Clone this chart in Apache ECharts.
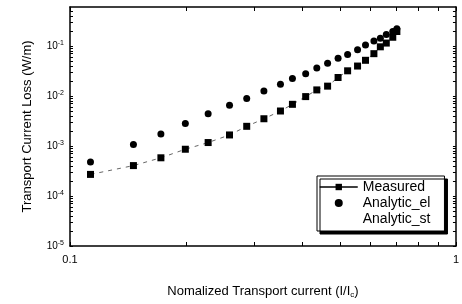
<!DOCTYPE html>
<html>
<head>
<meta charset="utf-8">
<script src="https://cdn.jsdelivr.net/npm/echarts@6/dist/echarts.min.js"></script>
<style>
  html, body { margin: 0; padding: 0; background: #fff; }
  #main { width: 462px; height: 304px; }
</style>
</head>
<body>
<div id="main"></div>
<script>
// normalized current I/Ic (same for both series)
var current = [0.113, 0.146, 0.172, 0.199, 0.228, 0.259, 0.287, 0.318, 0.351, 0.377, 0.408,
    0.436, 0.465, 0.495, 0.524, 0.556, 0.583, 0.613, 0.637, 0.660, 0.686, 0.703];
var measured = [2.7e-4, 4.05e-4, 5.8e-4, 8.6e-4, 1.17e-3, 1.66e-3, 2.47e-3, 3.5e-3, 5.0e-3, 6.8e-3, 9.7e-3,
    1.32e-2, 1.57e-2, 2.34e-2, 3.18e-2, 3.96e-2, 5.16e-2, 7.0e-2, 9.6e-2, 0.114, 0.149, 0.194];
var analyticEl = [4.8e-4, 1.07e-3, 1.73e-3, 2.82e-3, 4.4e-3, 6.5e-3, 8.9e-3, 1.26e-2, 1.72e-2, 2.24e-2, 2.79e-2,
    3.63e-2, 4.52e-2, 5.64e-2, 6.73e-2, 8.4e-2, 0.104, 0.125, 0.142, 0.170, 0.194, 0.221];
var analyticSt = []; // not visible in the scan
var xTicks = [0.1, 0.2, 0.3, 0.4, 0.5, 0.6, 0.7, 0.8, 0.9, 1];
var xLabels = [0.1, 1];
var yLabels = [1e-5, 1e-4, 1e-3, 1e-2, 1e-1];

var yTicks = [];
for (var e = -5; e <= -1; e++) {
    for (var m = 1; m <= 9; m++) {
        var v = m * Math.pow(10, e);
        if (v <= 0.6) yTicks.push(+v.toPrecision(3));
    }
}

function pairs(ys) {
    return ys.map(function (y, i) { return [current[i], y]; });
}

var font = 'Liberation Sans, Arial, sans-serif';

var chart = echarts.init(document.getElementById('main'), null, { renderer: 'canvas' });

var option = {
    backgroundColor: '#fff',
    animation: false,
    grid: { left: 70, right: 4, top: 7, bottom: 48 },
    legend: {
        orient: 'vertical',
        left: 317,
        top: 176,
        padding: [4, 14, 5, 2],
        itemGap: 2,
        itemWidth: 38,
        itemHeight: 8,
        backgroundColor: '#fff',
        borderColor: '#000',
        borderWidth: 1,
        borderRadius: 0,
        shadowColor: '#000',
        shadowBlur: 0,
        shadowOffsetX: 3,
        shadowOffsetY: 3,
        textStyle: { fontFamily: font, fontSize: 14, color: '#000' },
        data: [
            { name: 'Measured', lineStyle: { type: 'solid', color: '#000', width: 1.5 } },
            { name: 'Analytic_el' },
            { name: 'Analytic_st', icon: 'none' }
        ]
    },
    xAxis: [{
        type: 'log',
        logBase: 10,
        min: 0.1,
        max: 1,
        name: 'Nomalized Transport current (I/I{sub|c})',
        nameLocation: 'middle',
        nameGap: 37,
        nameTextStyle: {
            fontFamily: font, fontSize: 13, color: '#000',
            rich: { sub: { fontFamily: font, fontSize: 8, verticalAlign: 'bottom', padding: [8, 0, 0, 0] } }
        },
        axisLine: { lineStyle: { color: '#000', width: 1.5 } },
        axisTick: { inside: true, length: 4, customValues: xTicks, lineStyle: { color: '#000' } },
        axisLabel: { customValues: xLabels, fontFamily: font, fontSize: 11, color: '#000', margin: 8 },
        splitLine: { show: false }
    }, {
        type: 'log',
        logBase: 10,
        min: 0.1,
        max: 1,
        position: 'top',
        axisLine: { lineStyle: { color: '#000', width: 1.5 } },
        axisTick: { inside: true, length: 4, customValues: xTicks, lineStyle: { color: '#000' } },
        axisLabel: { show: false },
        splitLine: { show: false }
    }],
    yAxis: [{
        type: 'log',
        logBase: 10,
        min: 1e-5,
        max: 0.6,
        name: 'Transport Current Loss (W/m)',
        nameLocation: 'middle',
        nameGap: 36,
        nameTextStyle: { fontFamily: font, fontSize: 13, color: '#000' },
        axisLine: { lineStyle: { color: '#000', width: 1.5 } },
        axisTick: { inside: true, length: 3, customValues: yTicks, lineStyle: { color: '#000' } },
        axisLabel: {
            customValues: yLabels,
            fontFamily: font, fontSize: 10, color: '#000', margin: 6,
            formatter: function (v) {
                return '10{sup|' + Math.round(Math.log10(v)) + '}';
            },
            rich: { sup: { fontFamily: font, fontSize: 7, verticalAlign: 'top', padding: [0, 0, 6, 0] } }
        },
        splitLine: { show: false }
    }, {
        type: 'log',
        logBase: 10,
        min: 1e-5,
        max: 0.6,
        position: 'right',
        axisLine: { lineStyle: { color: '#000', width: 1.5 } },
        axisTick: { inside: true, length: 3, customValues: yTicks, lineStyle: { color: '#000' } },
        axisLabel: { show: false },
        splitLine: { show: false }
    }],
    series: [{
        name: 'Measured',
        type: 'line',
        data: pairs(measured),
        symbol: 'rect',
        symbolSize: 7,
        itemStyle: { color: '#000', opacity: 1 },
        lineStyle: { color: '#666', width: 1, type: [4, 5] },
        z: 3
    }, {
        name: 'Analytic_el',
        type: 'scatter',
        data: pairs(analyticEl),
        symbol: 'circle',
        symbolSize: 7,
        itemStyle: { color: '#000', opacity: 1 },
        z: 3
    }, {
        name: 'Analytic_st',
        type: 'line',
        data: analyticSt,
        showSymbol: false,
        lineStyle: { color: '#999', width: 1, type: 'dotted' }
    }]
};

chart.setOption(option);
</script>
</body>
</html>
